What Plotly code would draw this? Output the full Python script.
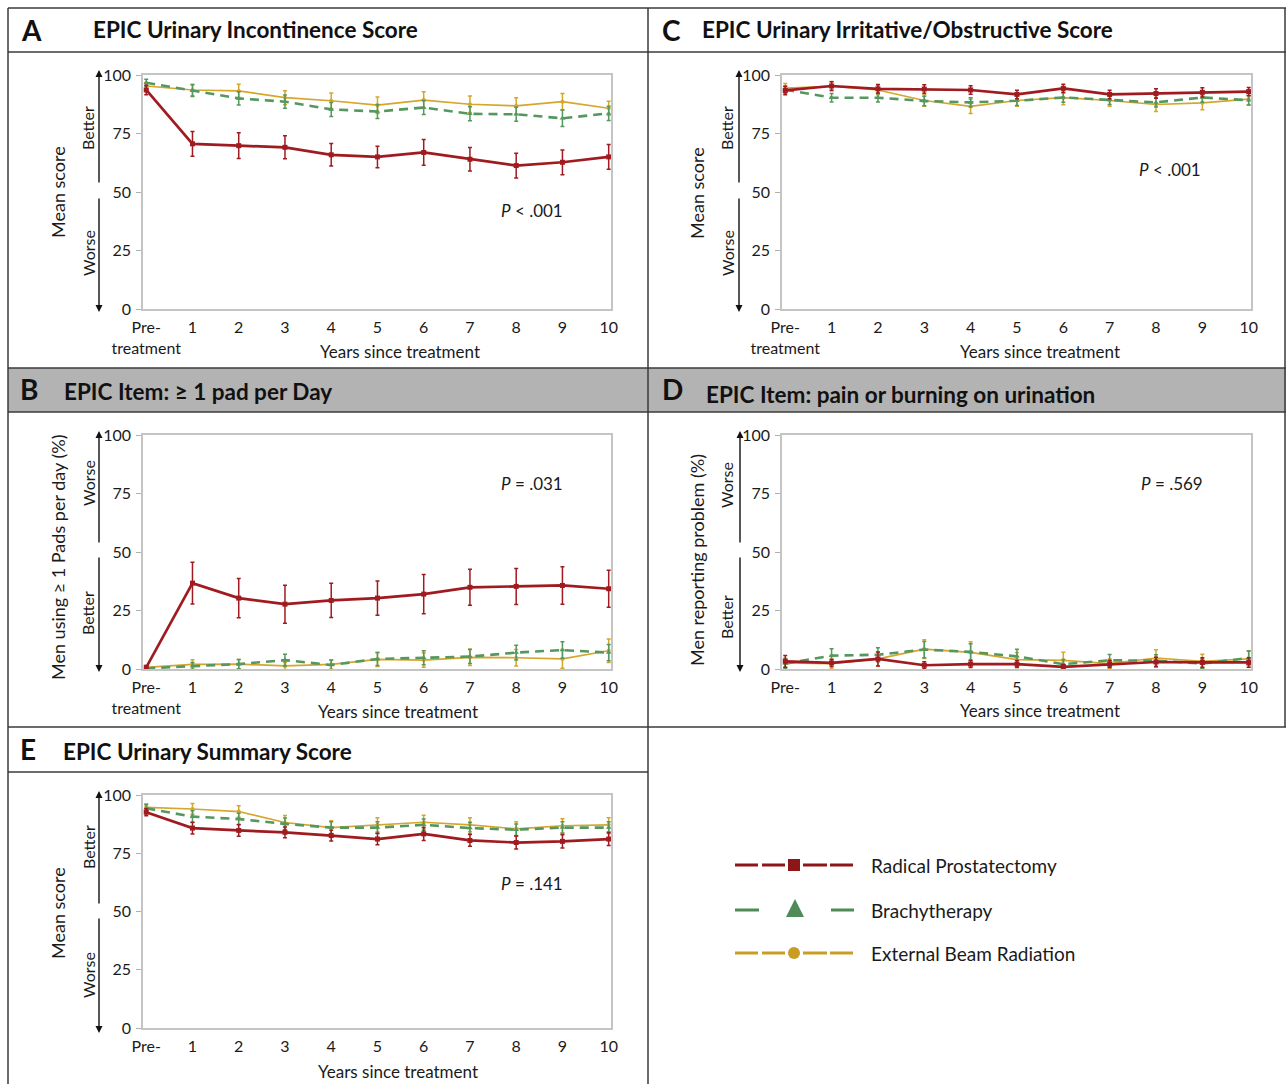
import plotly.graph_objects as go

W, H = 1286, 1084
FONT = "Liberation Sans Narrow, Lato, Arial, sans-serif"

years = list(range(11))
xt_full = ["Pre-<br>treatment", "1", "2", "3", "4", "5", "6", "7", "8", "9", "10"]
xt_short = ["Pre-", "1", "2", "3", "4", "5", "6", "7", "8", "9", "10"]
yticks = [0, 25, 50, 75, 100]

series_names = ["Radical Prostatectomy", "Brachytherapy", "External Beam Radiation"]

# Panel A - EPIC Urinary Incontinence Score
a_rp = [93.6, 70.6, 69.8, 69.1, 65.9, 65.0, 66.9, 64.0, 61.3, 62.7, 65.0]
a_rp_err = [2.0, 5.3, 5.5, 4.9, 4.8, 4.6, 5.5, 5.0, 5.3, 5.3, 5.3]
a_br = [96.7, 93.3, 90.0, 88.6, 85.3, 84.4, 86.1, 83.4, 83.2, 81.5, 83.6]
a_br_err = [1.5, 2.5, 2.8, 2.8, 3.0, 3.0, 3.0, 3.0, 3.0, 3.5, 3.0]
a_eb = [95.3, 93.6, 93.2, 90.3, 89.0, 87.1, 89.3, 87.5, 86.8, 88.6, 85.8]
a_eb_err = [1.5, 2.5, 2.8, 3.0, 3.3, 3.5, 3.5, 3.5, 3.5, 3.5, 3.0]

# Panel B - >= 1 pad per day
b_rp = [0.7, 36.7, 30.3, 27.7, 29.3, 30.3, 32.0, 34.9, 35.3, 35.7, 34.3]
b_rp_err = [0.8, 8.9, 8.4, 8.1, 7.3, 7.3, 8.4, 7.7, 7.7, 8.0, 7.9]
b_br = [0.3, 1.3, 2.1, 3.8, 1.7, 4.3, 4.8, 5.3, 7.0, 8.1, 7.0]
b_br_err = [0.5, 1.5, 2.0, 2.5, 2.0, 2.8, 3.0, 3.0, 3.2, 3.5, 3.5]
b_eb = [0.7, 2.0, 2.1, 1.3, 2.0, 4.1, 3.8, 5.0, 4.8, 4.3, 7.8]
b_eb_err = [0.7, 2.0, 2.0, 1.5, 2.0, 3.0, 3.0, 3.5, 3.5, 4.0, 5.0]

# Panel C - Irritative/Obstructive Score
c_rp = [93.4, 95.3, 94.1, 94.0, 93.6, 91.7, 94.3, 91.7, 92.1, 92.6, 92.9]
c_rp_err = [1.8, 1.8, 1.8, 1.8, 1.8, 1.8, 1.8, 1.8, 2.0, 2.0, 1.8]
c_br = [93.7, 90.3, 90.3, 88.9, 88.3, 89.0, 90.4, 89.4, 88.3, 90.4, 89.2]
c_br_err = [1.5, 1.8, 1.8, 2.0, 2.0, 2.0, 2.0, 2.0, 2.0, 2.0, 2.0]
c_eb = [94.4, 95.2, 93.6, 89.1, 86.6, 89.1, 90.3, 89.1, 87.4, 88.1, 89.7]
c_eb_err = [2.0, 2.0, 2.0, 2.5, 3.0, 2.5, 3.0, 2.5, 3.0, 3.0, 2.5]

# Panel D - pain or burning on urination
d_rp = [3.3, 2.6, 4.3, 1.6, 2.1, 2.1, 0.9, 2.1, 3.0, 2.8, 2.8]
d_rp_err = [2.5, 1.5, 3.0, 1.5, 1.5, 1.5, 1.0, 1.5, 2.0, 2.0, 2.0]
d_br = [2.3, 5.7, 6.1, 8.3, 7.3, 5.4, 2.1, 3.7, 3.6, 2.3, 4.7]
d_br_err = [2.0, 3.0, 3.0, 3.5, 3.5, 3.0, 2.0, 2.5, 2.5, 2.0, 3.0]
d_eb = [2.6, 2.3, 4.3, 8.5, 7.1, 4.0, 3.7, 2.3, 4.7, 3.3, 4.3]
d_eb_err = [2.0, 2.0, 3.0, 4.0, 4.5, 3.0, 3.5, 2.0, 3.5, 3.0, 3.5]

# Panel E - Urinary Summary Score
e_rp = [92.6, 85.8, 84.8, 84.0, 82.6, 81.1, 83.3, 80.5, 79.6, 80.1, 81.1]
e_rp_err = [1.5, 2.5, 2.5, 2.3, 2.3, 2.5, 2.8, 2.5, 2.8, 2.8, 2.8]
e_br = [94.3, 90.7, 89.7, 87.6, 86.0, 86.0, 87.2, 85.8, 85.1, 86.0, 86.0]
e_br_err = [1.5, 2.5, 2.5, 2.5, 2.5, 2.5, 2.5, 2.5, 2.5, 2.5, 2.5]
e_eb = [94.7, 94.0, 92.9, 88.2, 86.0, 87.2, 88.3, 87.2, 85.5, 86.8, 87.2]
e_eb_err = [1.5, 2.3, 2.5, 3.0, 3.0, 3.0, 3.0, 3.0, 3.0, 3.0, 3.0]

RED = "#A01B20"
GREEN = "#55985E"
GOLD = "#D6A62C"
RED_L = "#8E1518"
GREEN_L = "#4E8B56"
GOLD_L = "#C99C24"
GRAY_HDR = "#B3B3B3"
FRAME = "#3a3a3a"


def px(x):
    return x / W


def py(y):
    return 1 - y / H


panels = [
    dict(key="A", l=143, r=611, t=75, b=309,
         data=[(a_rp, a_rp_err), (a_br, a_br_err), (a_eb, a_eb_err)],
         xt=xt_full, p="<i>P</i> < .001", ppos=(532, 211)),
    dict(key="C", l=782, r=1251, t=75, b=309,
         data=[(c_rp, c_rp_err), (c_br, c_br_err), (c_eb, c_eb_err)],
         xt=xt_full, p="<i>P</i> < .001", ppos=(1170, 169)),
    dict(key="B", l=143, r=611, t=435, b=669,
         data=[(b_rp, b_rp_err), (b_br, b_br_err), (b_eb, b_eb_err)],
         xt=xt_full, p="<i>P</i> = .031", ppos=(532, 484)),
    dict(key="D", l=782, r=1251, t=435, b=669,
         data=[(d_rp, d_rp_err), (d_br, d_br_err), (d_eb, d_eb_err)],
         xt=xt_short, p="<i>P</i> = .569", ppos=(1172, 483)),
    dict(key="E", l=143, r=611, t=795, b=1028,
         data=[(e_rp, e_rp_err), (e_br, e_br_err), (e_eb, e_eb_err)],
         xt=xt_short, p="<i>P</i> = .141", ppos=(532, 883)),
]

styles = [
    dict(color=RED, width=2.7, dash="solid", symbol="square", size=5),
    dict(color=GREEN, width=2.6, dash="9px,6px", symbol="triangle-up", size=5),
    dict(color=GOLD, width=1.7, dash="solid", symbol="circle", size=4),
]

fig = go.Figure()
layout_axes = {}
annotations = []
shapes = []

for i, p in enumerate(panels):
    n = i + 1
    xa = "x" if n == 1 else f"x{n}"
    ya = "y" if n == 1 else f"y{n}"
    for si in [2, 1, 0]:
        vals, errs = p["data"][si]
        st = styles[si]
        fig.add_trace(go.Scatter(
            x=years, y=vals, xaxis=xa, yaxis=ya, mode="lines+markers",
            name=series_names[si], showlegend=False, cliponaxis=False,
            line=dict(color=st["color"], width=st["width"], dash=st["dash"]),
            marker=dict(symbol=st["symbol"], size=st["size"], color=st["color"]),
            error_y=dict(type="data", array=errs, visible=True,
                         color=st["color"], thickness=1.5, width=2),
        ))
    xname = "xaxis" if n == 1 else f"xaxis{n}"
    yname = "yaxis" if n == 1 else f"yaxis{n}"
    layout_axes[xname] = dict(
        domain=[px(p["l"]), px(p["r"])], anchor=ya, range=[-0.07, 10.05],
        tickmode="array", tickvals=years, ticktext=p["xt"],
        showline=True, linecolor="#C4C4C4", linewidth=1.5, mirror=True,
        showgrid=False, zeroline=False, ticks="", ticklabelstandoff=3,
        automargin=False,
        tickfont=dict(family=FONT, size=16, color="#1a1a1a"),
    )
    layout_axes[yname] = dict(
        domain=[py(p["b"]), py(p["t"])], anchor=xa, range=[0, 100],
        tickmode="array", tickvals=yticks,
        showline=True, linecolor="#C4C4C4", linewidth=1.5, mirror=True,
        showgrid=False, zeroline=False, ticks="outside", ticklen=5,
        tickcolor="#B0B0B0", tickwidth=1, ticklabelstandoff=2,
        automargin=False,
        tickfont=dict(family=FONT, size=16, color="#1a1a1a"),
    )
    annotations.append(dict(
        xref="paper", yref="paper", x=px(p["ppos"][0]), y=py(p["ppos"][1]),
        text=p["p"], showarrow=False, xanchor="center", yanchor="middle",
        font=dict(family=FONT, size=17, color="#1a1a1a")))

for (xc, yc) in [(400, 351), (1040, 351), (398, 711), (1040, 710), (398, 1071)]:
    annotations.append(dict(xref="paper", yref="paper", x=px(xc), y=py(yc),
                            text="Years since treatment", showarrow=False,
                            xanchor="center", yanchor="middle",
                            font=dict(family=FONT, size=17, color="#1a1a1a")))

for (xc, yc, txt) in [(58, 192, "Mean score"), (697, 193, "Mean score"),
                      (58, 558, "Men using ≥ 1 Pads per day (%)"),
                      (697, 560, "Men reporting problem (%)"),
                      (58, 913, "Mean score")]:
    annotations.append(dict(xref="paper", yref="paper", x=px(xc), y=py(yc),
                            text=txt, showarrow=False, textangle=-90,
                            xanchor="center", yanchor="middle",
                            font=dict(family=FONT, size=18, color="#1a1a1a")))

for (xc, yc, txt) in [(88, 128, "Better"), (88, 253, "Worse"),
                      (727, 128, "Better"), (727, 253, "Worse"),
                      (88, 483, "Worse"), (88, 613, "Better"),
                      (726, 485, "Worse"), (726, 617, "Better"),
                      (88, 847, "Better"), (88, 975, "Worse")]:
    annotations.append(dict(xref="paper", yref="paper", x=px(xc), y=py(yc),
                            text=txt, showarrow=False, textangle=-90,
                            xanchor="center", yanchor="middle",
                            font=dict(family=FONT, size=16, color="#1a1a1a")))

for (xa_, top, mid1, mid2, bot) in [(99, 70, 184, 197, 312), (739, 70, 184, 197, 312),
                                     (99, 431, 544, 556, 672), (740, 431, 544, 556, 672),
                                     (99, 791, 905, 917, 1033)]:
    annotations.append(dict(xref="paper", yref="paper", x=px(xa_), y=py(top),
                            ax=0, ay=mid1 - top, axref="pixel", ayref="pixel",
                            text="", showarrow=True, arrowhead=2, arrowsize=1,
                            arrowwidth=1.4, arrowcolor="#111111"))
    annotations.append(dict(xref="paper", yref="paper", x=px(xa_), y=py(bot),
                            ax=0, ay=mid2 - bot, axref="pixel", ayref="pixel",
                            text="", showarrow=True, arrowhead=2, arrowsize=1,
                            arrowwidth=1.4, arrowcolor="#111111"))

headers = [
    ("A", 19, 30, "EPIC Urinary Incontinence Score", 91, 30),
    ("C", 660, 30, "EPIC Urinary Irritative/Obstructive Score", 700, 30),
    ("B", 18, 389, "EPIC Item: ≥ 1 pad per Day", 62, 391),
    ("D", 660, 389, "EPIC Item: pain or burning on urination", 704, 394),
    ("E", 18, 749, "EPIC Urinary Summary Score", 61, 751),
]
for (let, lx, ly, title, tx, ty) in headers:
    annotations.append(dict(xref="paper", yref="paper", x=px(lx), y=py(ly),
                            text=f"<b>{let}</b>", showarrow=False,
                            xanchor="left", yanchor="middle",
                            font=dict(family=FONT, size=28, color="#111111")))
    annotations.append(dict(xref="paper", yref="paper", x=px(tx), y=py(ty),
                            text=f"<b>{title}</b>", showarrow=False,
                            xanchor="left", yanchor="middle",
                            font=dict(family=FONT, size=22.5, color="#111111")))

shapes.append(dict(type="rect", xref="paper", yref="paper",
                   x0=px(8), x1=px(1286), y0=py(412), y1=py(368),
                   fillcolor=GRAY_HDR, line=dict(width=0), layer="below"))


def hline(y, x0, x1, w=1.5):
    shapes.append(dict(type="line", xref="paper", yref="paper",
                       x0=px(x0), x1=px(x1), y0=py(y), y1=py(y),
                       line=dict(color=FRAME, width=w)))


def vline(x, y0, y1, w=1.5):
    shapes.append(dict(type="line", xref="paper", yref="paper",
                       x0=px(x), x1=px(x), y0=py(y0), y1=py(y1),
                       line=dict(color=FRAME, width=w)))


hline(8, 8, 1286)
hline(52, 8, 1286)
hline(368, 8, 1286)
hline(412, 8, 1286)
hline(727, 8, 1286)
hline(772, 8, 648)
vline(8, 8, 1084)
vline(648, 8, 1084)
vline(1285, 8, 727)

leg_rows = [
    (865, RED_L, "square", "Radical Prostatectomy", [(735, 758), (762, 785), (803, 827), (830, 853)]),
    (910, GREEN_L, "triangle", "Brachytherapy", [(735, 759), (831, 854)]),
    (953, GOLD_L, "circle", "External Beam Radiation", [(735, 758), (762, 785), (803, 827), (830, 853)]),
]
for (ly, col, sym, label, segs) in leg_rows:
    for (s0, s1) in segs:
        shapes.append(dict(type="line", xref="paper", yref="paper",
                           x0=px(s0), x1=px(s1), y0=py(ly), y1=py(ly),
                           line=dict(color=col, width=3)))
    if sym == "square":
        shapes.append(dict(type="rect", xref="paper", yref="paper",
                           x0=px(788), x1=px(800), y0=py(871), y1=py(859),
                           fillcolor=col, line=dict(width=0)))
    elif sym == "circle":
        shapes.append(dict(type="circle", xref="paper", yref="paper",
                           x0=px(788), x1=px(800), y0=py(959), y1=py(947),
                           fillcolor=col, line=dict(width=0)))
    else:
        path = f"M {px(786)},{py(917)} L {px(804)},{py(917)} L {px(795)},{py(899)} Z"
        shapes.append(dict(type="path", xref="paper", yref="paper", path=path,
                           fillcolor=col, line=dict(width=0)))
    annotations.append(dict(xref="paper", yref="paper", x=px(869), y=py(ly),
                            text=label, showarrow=False, xanchor="left",
                            yanchor="middle",
                            font=dict(family=FONT, size=19, color="#1a1a1a")))

fig.update_layout(
    width=W, height=H,
    margin=dict(l=0, r=0, t=0, b=0, pad=0, autoexpand=False),
    paper_bgcolor="white", plot_bgcolor="white",
    showlegend=False, annotations=annotations, shapes=shapes,
    font=dict(family=FONT),
    **layout_axes,
)

fig.write_html("out.html")
